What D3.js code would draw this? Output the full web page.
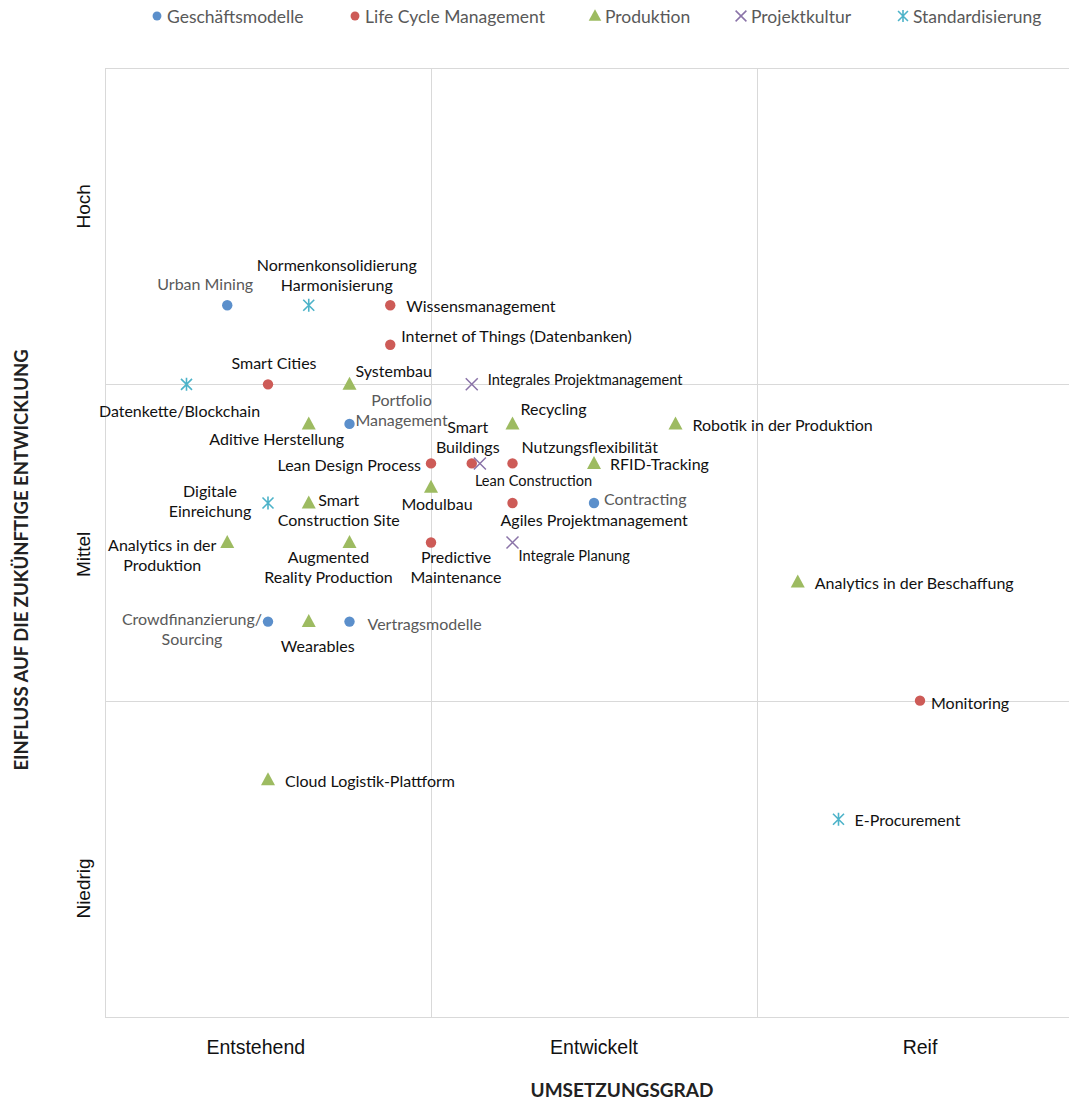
<!DOCTYPE html>
<html>
<head>
<meta charset="utf-8">
<script src="https://cdn.jsdelivr.net/npm/d3@7"></script>
<style>
  html, body { margin: 0; padding: 0; background: #fff; }
  svg { display: block; }
</style>
</head>
<body>
<svg id="chart" width="1069" height="1100"></svg>
<script>
// Series names, legend order
const seriesNames = ["Geschäftsmodelle", "Life Cycle Management", "Produktion", "Projektkultur", "Standardisierung"];

// Each topic: [name, Umsetzungsgrad (0-24), Einfluss (0-24)]
const geschaeftsmodelle = [
  ["Urban Mining", 3, 18],
  ["Portfolio\nManagement", 6, 15],
  ["Contracting", 12, 13],
  ["Crowdfinanzierung/\nSourcing", 4, 10],
  ["Vertragsmodelle", 6, 10]
];
const lifeCycleManagement = [
  ["Wissensmanagement", 7, 18],
  ["Internet of Things (Datenbanken)", 7, 17],
  ["Smart Cities", 4, 16],
  ["Lean Design Process", 8, 14],
  ["Smart\nBuildings", 9, 14],
  ["Nutzungsflexibilität", 10, 14],
  ["Agiles Projektmanagement", 10, 13],
  ["Predictive\nMaintenance", 8, 12],
  ["Monitoring", 20, 8]
];
const produktion = [
  ["Systembau", 6, 16],
  ["Aditive Herstellung", 5, 15],
  ["Recycling", 10, 15],
  ["Robotik in der Produktion", 14, 15],
  ["RFID-Tracking", 12, 14],
  ["Modulbau", 8, 13.4],
  ["Smart\nConstruction Site", 5, 13],
  ["Analytics in der\nProduktion", 3, 12],
  ["Augmented\nReality Production", 6, 12],
  ["Wearables", 5, 10],
  ["Analytics in der Beschaffung", 17, 11],
  ["Cloud Logistik-Plattform", 4, 6]
];
const projektkultur = [
  ["Integrales Projektmanagement", 9, 16],
  ["Lean Construction", 9.2, 14],
  ["Integrale Planung", 10, 12]
];
const standardisierung = [
  ["Normenkonsolidierung\nHarmonisierung", 5, 18],
  ["Datenkette/Blockchain", 2, 16],
  ["Digitale\nEinreichung", 4, 13],
  ["E-Procurement", 18, 5]
];

// Axis category labels
const xTickLabels = ["Entstehend", "Entwickelt", "Reif"];
const xTickPos = [3.7, 12, 20];
const yTickLabels = ["Niedrig", "Mittel", "Hoch"];
const yTickPos = [3.25, 11.7, 20.5];
const xTitle = "UMSETZUNGSGRAD";
const yTitle = "EINFLUSS AUF DIE ZUKÜNFTIGE ENTWICKLUNG";

// ---- styling & layout ----
const colors = ["#5b8fcb", "#cd5b57", "#9dbb61", "#8a73a8", "#4db3c9"];
const shapes = ["circle", "circle", "triangle", "cross", "star"];
const seriesData = [geschaeftsmodelle, lifeCycleManagement, produktion, projektkultur, standardisierung];
const greyLabelSeries = new Set([0]);
const smallLabels = new Set(["Integrales Projektmanagement", "Lean Construction", "Integrale Planung"]);

// Label placement relative to each marker: [dx, dy of first line, anchor]
const labelPlace = {
  "Urban Mining": [-22, -15, "middle"],
  "Portfolio\nManagement": [52, -18, "middle"],
  "Contracting": [10, 2, "start"],
  "Crowdfinanzierung/\nSourcing": [-76, 3, "middle"],
  "Vertragsmodelle": [18, 8, "start"],
  "Wissensmanagement": [16, 7, "start"],
  "Internet of Things (Datenbanken)": [11, -3, "start"],
  "Smart Cities": [6, -15, "middle"],
  "Lean Design Process": [-10, 8, "end"],
  "Smart\nBuildings": [-4, -30, "middle"],
  "Nutzungsflexibilität": [9, -10, "start"],
  "Agiles Projektmanagement": [-12, 23, "start"],
  "Predictive\nMaintenance": [25, 20, "middle"],
  "Monitoring": [11, 8, "start"],
  "Systembau": [6, -7, "start"],
  "Aditive Herstellung": [-32, 21, "middle"],
  "Recycling": [8, -9, "start"],
  "Robotik in der Produktion": [17, 7, "start"],
  "RFID-Tracking": [16, 7, "start"],
  "Modulbau": [6, 23, "middle"],
  "Smart\nConstruction Site": [30, 3, "middle"],
  "Analytics in der\nProduktion": [-65, 8, "middle"],
  "Augmented\nReality Production": [-21, 20, "middle"],
  "Wearables": [9, 30, "middle"],
  "Analytics in der Beschaffung": [17, 7, "start"],
  "Cloud Logistik-Plattform": [17, 7, "start"],
  "Integrales Projektmanagement": [16, 1, "start"],
  "Lean Construction": [-5, 23, "start"],
  "Integrale Planung": [6, 18, "start"],
  "Normenkonsolidierung\nHarmonisierung": [28, -34, "middle"],
  "Datenkette/Blockchain": [-7, 33, "middle"],
  "Digitale\nEinreichung": [-58, -6, "middle"],
  "E-Procurement": [16, 7, "start"]
};

const svg = d3.select("#chart");
const plot = { left: 105, right: 1083, top: 68, bottom: 1017 };

const x = d3.scaleLinear().domain([0, 24]).range([plot.left, plot.right]);
const y = d3.scaleLinear().domain([0, 24]).range([plot.bottom, plot.top]);

const labelFont = "Lato, 'Open Sans', sans-serif";
const axisFont = "'Liberation Sans', Arial, sans-serif";

// Grid: zone borders every 8 units
const gridG = svg.append("g").attr("stroke", "#d9d9d9").attr("stroke-width", 1);
[0, 8, 16, 24].forEach(v => {
  gridG.append("line").attr("x1", x(v) + 0.5).attr("x2", x(v) + 0.5)
    .attr("y1", plot.top).attr("y2", plot.bottom);
  gridG.append("line").attr("y1", Math.round(y(v)) + 0.5).attr("y2", Math.round(y(v)) + 0.5)
    .attr("x1", plot.left).attr("x2", plot.right);
});

// Category labels
svg.append("g").selectAll("text").data(xTickLabels).join("text")
  .attr("x", (d, i) => x(xTickPos[i]))
  .attr("y", 1054)
  .attr("text-anchor", "middle")
  .attr("font-family", axisFont).attr("font-size", 19.5).attr("fill", "#111")
  .text(d => d);

svg.append("g").selectAll("text").data(yTickLabels).join("text")
  .attr("transform", (d, i) => `translate(90,${y(yTickPos[i])}) rotate(-90)`)
  .attr("text-anchor", "middle")
  .attr("font-family", axisFont).attr("font-size", 19).attr("fill", "#111")
  .text(d => d);

// Axis titles
svg.append("text").attr("x", 622).attr("y", 1097).attr("text-anchor", "middle")
  .attr("font-family", labelFont).attr("font-weight", "bold").attr("font-size", 19).attr("fill", "#222")
  .text(xTitle);
svg.append("text").attr("transform", "translate(28,560) rotate(-90)").attr("text-anchor", "middle")
  .attr("font-family", labelFont).attr("font-weight", "bold").attr("font-size", 18.5).attr("fill", "#222")
  .text(yTitle);

// Marker drawing
function drawMarker(g, shape, color, cx, cy, scale) {
  const s = scale || 1;
  if (shape === "circle") {
    g.append("circle").attr("cx", cx).attr("cy", cy).attr("r", 5.2 * s).attr("fill", color);
  } else if (shape === "triangle") {
    const h = 13 * s, w = 14 * s;
    g.append("path")
      .attr("d", `M${cx},${cy - h / 2 - 1}L${cx + w / 2},${cy + h / 2 - 1}L${cx - w / 2},${cy + h / 2 - 1}Z`)
      .attr("fill", color);
  } else if (shape === "cross") {
    const r = 6 * s;
    g.append("path")
      .attr("d", `M${cx - r},${cy - r}L${cx + r},${cy + r}M${cx - r},${cy + r}L${cx + r},${cy - r}`)
      .attr("stroke", color).attr("stroke-width", 1.5).attr("fill", "none");
  } else if (shape === "star") {
    const r = 5.5 * s;
    g.append("path")
      .attr("d", `M${cx - r},${cy - r}L${cx + r},${cy + r}M${cx - r},${cy + r}L${cx + r},${cy - r}M${cx},${cy - r - 1}L${cx},${cy + r + 1}`)
      .attr("stroke", color).attr("stroke-width", 1.6).attr("fill", "none");
  }
}

// Points and labels
seriesData.forEach((data, si) => {
  const g = svg.append("g").attr("class", "series-" + si);
  data.forEach(([name, vx, vy]) => {
    const cx = x(vx), cy = y(vy);
    drawMarker(g, shapes[si], colors[si], cx, cy, 1);
    const [dx, dy, anchor] = labelPlace[name];
    const small = smallLabels.has(name);
    const t = g.append("text")
      .attr("x", cx + dx).attr("y", cy + dy)
      .attr("text-anchor", anchor)
      .attr("font-family", labelFont)
      .attr("font-size", small ? 14.6 : 16)
      .attr("fill", greyLabelSeries.has(si) ? "#595959" : "#111");
    name.split("\n").forEach((line, li) => {
      t.append("tspan").attr("x", cx + dx).attr("dy", li === 0 ? 0 : 20).text(line);
    });
  });
});

// Legend
const legendX = [157, 355, 595, 741, 903];
const legend = svg.append("g");
seriesNames.forEach((name, i) => {
  drawMarker(legend, shapes[i], colors[i], legendX[i], 16, shapes[i] === "circle" ? 0.85 : 0.9);
  legend.append("text").attr("x", legendX[i] + 10).attr("y", 23)
    .attr("font-family", labelFont).attr("font-size", 17.5).attr("fill", "#595959")
    .text(name);
});
</script>
</body>
</html>
